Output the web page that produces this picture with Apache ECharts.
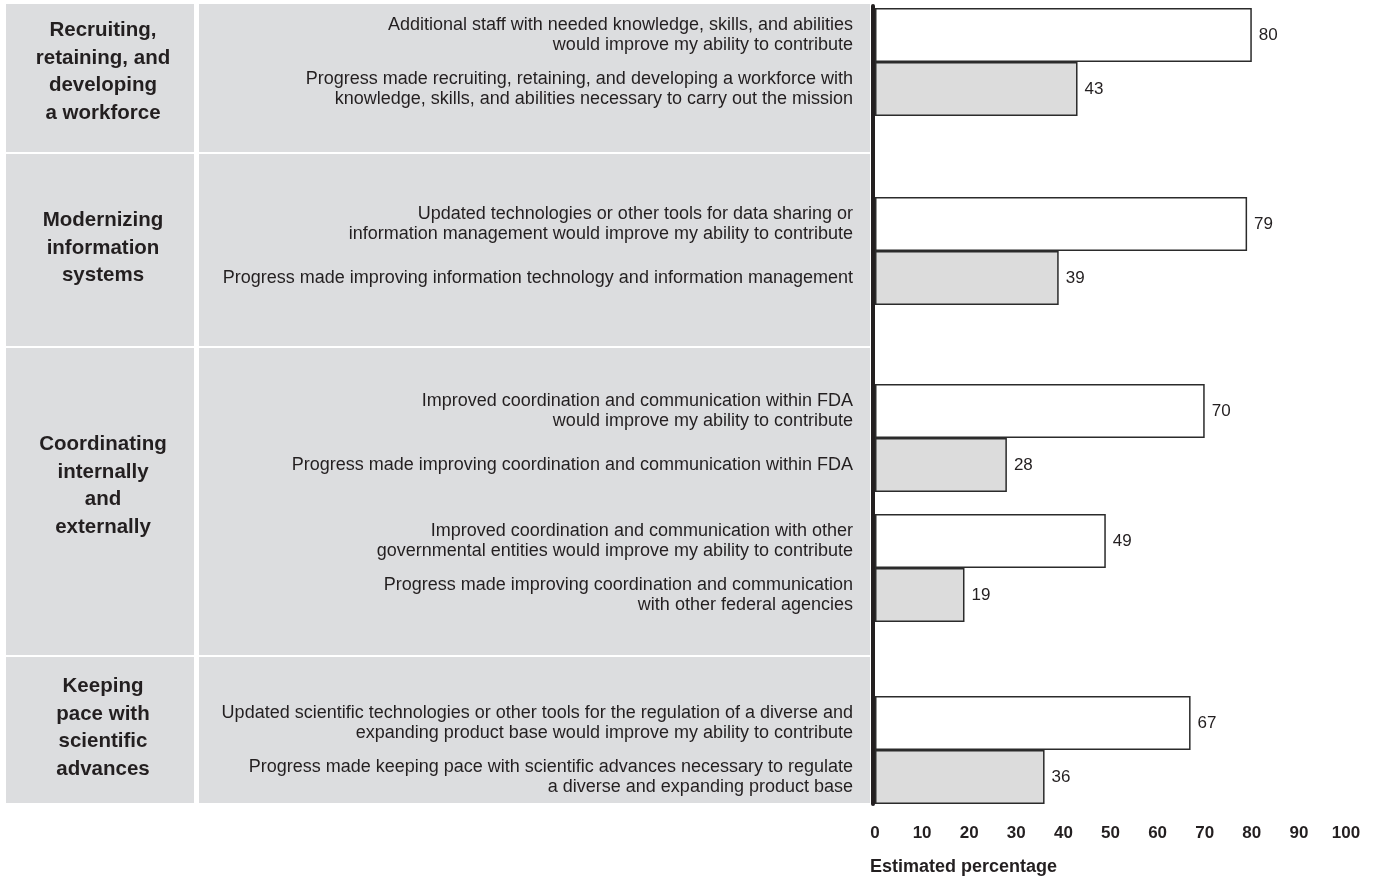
<!DOCTYPE html>
<html>
	<head>
		<meta charset="utf-8">
		<title></title>
		<script src="https://cdn.jsdelivr.net/npm/echarts@6/dist/echarts.min.js"></script>
		<style>
			body { margin: 0; background: #ffffff; }
			#main { width: 1374px; height: 877px; }
		</style>
	</head>
	<body>
		<div id="main"></div>
	</body>
	<script>
		var groupNames = [
			"Recruiting,\nretaining, and\ndeveloping\na workforce",
			"Modernizing\ninformation\nsystems",
			"Coordinating\ninternally\nand\nexternally",
			"Keeping\npace with\nscientific\nadvances"
		];
		var itemLabels = [
			"Additional staff with needed knowledge, skills, and abilities\nwould improve my ability to contribute",
			"Progress made recruiting, retaining, and developing a workforce with\nknowledge, skills, and abilities necessary to carry out the mission",
			"Updated technologies or other tools for data sharing or\ninformation management would improve my ability to contribute",
			"Progress made improving information technology and information management",
			"Improved coordination and communication within FDA\nwould improve my ability to contribute",
			"Progress made improving coordination and communication within FDA",
			"Improved coordination and communication with other\ngovernmental entities would improve my ability to contribute",
			"Progress made improving coordination and communication\nwith other federal agencies",
			"Updated scientific technologies or other tools for the regulation of a diverse and\nexpanding product base would improve my ability to contribute",
			"Progress made keeping pace with scientific advances necessary to regulate\na diverse and expanding product base"
		];
		var values = [80, 43, 79, 39, 70, 28, 49, 19, 67, 36];
		var xTicks = [0, 10, 20, 30, 40, 50, 60, 70, 80, 90, 100];

		var font = "Liberation Sans, Arial, Helvetica, sans-serif";
		var ink = "#231f20";
		var panel = "#dcdddf";
		var barGray = "#dcdcdc";

		// pixel layout of the bar pairs (top of each pair)
		var pairTops = [8, 197, 384, 514, 696];
		var pairH = 108;
		// panels: [top, bottom] of each group, group label centre y
		var panels = [[4, 152], [154, 346], [348, 655], [657, 803]];
		var groupY = [72, 248, 486, 728];

		var grids = [{ left: 875, right: 28, top: 6, bottom: 73 }];
		var xAxes = [{
			gridIndex: 0, type: 'value', min: 0, max: 100, interval: 10,
			axisLine: { show: false }, axisTick: { show: false }, splitLine: { show: false },
			axisLabel: {
				margin: 21, color: ink, fontFamily: font, fontSize: 17, fontWeight: 'bold',
				formatter: function (v) { return xTicks.indexOf(v) >= 0 ? String(v) : ''; }
			},
			name: 'Estimated percentage', nameLocation: 'start', nameGap: 5,
			nameTextStyle: {
				align: 'left', verticalAlign: 'top', padding: [54, 0, 0, 0],
				color: ink, fontFamily: font, fontSize: 18, fontWeight: 'bold'
			}
		}];
		var yAxes = [{
			gridIndex: 0, type: 'value', min: 0, max: 1, offset: 2,
			axisLine: { show: true, onZero: false, lineStyle: { color: ink, width: 4 } },
			axisTick: { show: false }, axisLabel: { show: false }, splitLine: { show: false }
		}];
		var series = [];

		for (var p = 0; p < pairTops.length; p++) {
			var g = p + 1;
			grids.push({ left: 875, right: 28, top: pairTops[p], height: pairH });
			xAxes.push({
				gridIndex: g, type: 'value', min: 0, max: 100, show: false
			});
			yAxes.push({
				gridIndex: g, type: 'category', inverse: true,
				data: itemLabels.slice(p * 2, p * 2 + 2),
				axisLine: { show: false }, axisTick: { show: false },
				axisLabel: {
					margin: 22, color: ink, fontFamily: font, fontSize: 18,
					lineHeight: 20, align: 'right'
				}
			});
			var d = [];
			for (var k = 0; k < 2; k++) {
				d.push({
					value: values[p * 2 + k],
					itemStyle: { color: k === 0 ? '#ffffff' : barGray }
				});
			}
			series.push({
				type: 'bar', xAxisIndex: g, yAxisIndex: g,
				barCategoryGap: '0%', data: d,
				itemStyle: { borderColor: '#2b2b2b', borderWidth: 1.5 },
				label: {
					show: true, position: 'right', distance: 7,
					color: ink, fontFamily: font, fontSize: 17
				},
				silent: true, animation: false
			});
		}

		var graphic = [];
		for (var i = 0; i < panels.length; i++) {
			var t = panels[i][0], b = panels[i][1];
			graphic.push({
				type: 'rect', z: -10, shape: { x: 6, y: t, width: 188, height: b - t },
				style: { fill: panel }
			});
			graphic.push({
				type: 'rect', z: -10, shape: { x: 199, y: t, width: 671, height: b - t },
				style: { fill: panel }
			});
			graphic.push({
				type: 'text', x: 103, y: groupY[i],
				style: {
					text: groupNames[i], fill: ink, font: 'bold 20.5px ' + font,
					lineHeight: 27.5, align: 'center', verticalAlign: 'middle'
				}
			});
		}

		var option = {
			animation: false,
			grid: grids,
			xAxis: xAxes,
			yAxis: yAxes,
			series: series,
			graphic: graphic
		};
		draw(option);

		function draw(option) {
			let dom = document.getElementById("main");
			let echart = echarts.init(dom);
			echart.setOption(option);
		}
	</script>
</html>
